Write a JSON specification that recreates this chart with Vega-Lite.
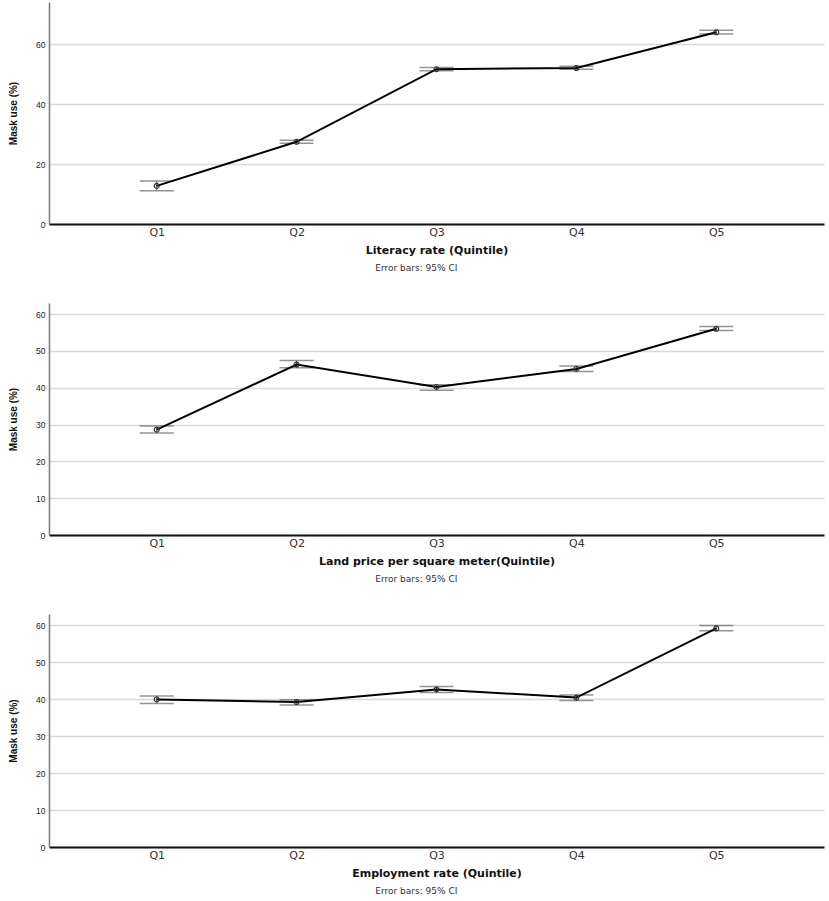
{
  "$schema": "https://vega.github.io/schema/vega-lite/v6.json",
  "background": "white",
  "padding": {"left": 8, "top": 2, "right": 4, "bottom": 0},
  "spacing": 30,
  "datasets": {
    "literacy": [
      {"quintile": "Q1", "mean": 12.7, "lo": 11.1, "hi": 14.3},
      {"quintile": "Q2", "mean": 27.4, "lo": 26.9, "hi": 27.9},
      {"quintile": "Q3", "mean": 51.6, "lo": 51.1, "hi": 52.2},
      {"quintile": "Q4", "mean": 52.0, "lo": 51.6, "hi": 52.6},
      {"quintile": "Q5", "mean": 63.9, "lo": 63.3, "hi": 64.6}
    ],
    "land": [
      {"quintile": "Q1", "mean": 28.6, "lo": 27.7, "hi": 29.6},
      {"quintile": "Q2", "mean": 46.3, "lo": 45.4, "hi": 47.4},
      {"quintile": "Q3", "mean": 40.2, "lo": 39.3, "hi": 40.8},
      {"quintile": "Q4", "mean": 45.1, "lo": 44.4, "hi": 45.9},
      {"quintile": "Q5", "mean": 56.0, "lo": 55.5, "hi": 56.6}
    ],
    "employment": [
      {"quintile": "Q1", "mean": 39.9, "lo": 38.8, "hi": 40.8},
      {"quintile": "Q2", "mean": 39.2, "lo": 38.4, "hi": 39.8},
      {"quintile": "Q3", "mean": 42.6, "lo": 41.8, "hi": 43.4},
      {"quintile": "Q4", "mean": 40.4, "lo": 39.6, "hi": 41.1},
      {"quintile": "Q5", "mean": 59.1, "lo": 58.5, "hi": 59.9}
    ]
  },
  "config": {
    "view": {"stroke": null},
    "font": "Liberation Sans",
    "axisX": {
      "domainColor": "#111",
      "domainWidth": 2.2,
      "ticks": false,
      "grid": false,
      "labelAngle": 0,
      "labelFont": "DejaVu Sans",
      "labelFontSize": 11,
      "labelColor": "#333",
      "labelPadding": 2,
      "titleFont": "DejaVu Sans",
      "titleFontSize": 11,
      "titleFontWeight": "bold",
      "titleColor": "#111",
      "titlePadding": 7
    },
    "axisY": {
      "domainColor": "#777",
      "domainWidth": 1.5,
      "ticks": false,
      "grid": true,
      "gridColor": "#d9d9d9",
      "gridWidth": 1.3,
      "labelFont": "Liberation Sans",
      "labelFontSize": 8.5,
      "labelColor": "#222",
      "labelPadding": 4,
      "titleFont": "Liberation Sans",
      "titleFontSize": 10,
      "titleFontWeight": "bold",
      "titleColor": "#111",
      "titlePadding": 17
    },
    "title": {
      "orient": "bottom",
      "anchor": "middle",
      "frame": "bounds",
      "font": "DejaVu Sans",
      "fontSize": 9,
      "fontWeight": "normal",
      "color": "#333",
      "offset": 9
    }
  },
  "vconcat": [
    {
      "width": 775,
      "height": 222,
      "data": {"name": "literacy"},
      "title": "Error bars: 95% CI",
      "encoding": {
        "x": {"field": "quintile", "type": "ordinal", "scale": {"type": "point", "padding": 0.77}, "title": "Literacy rate (Quintile)"}
      },
      "layer": [
        {
          "mark": {"type": "rule", "color": "#555", "strokeWidth": 1},
          "encoding": {
            "y": {"field": "lo", "type": "quantitative", "scale": {"domain": [0, 74], "nice": false}, "axis": {"values": [0, 20, 40, 60]}, "title": "Mask use (%)"},
            "y2": {"field": "hi"}
          }
        },
        {
          "mark": {"type": "tick", "color": "#666", "size": 34, "thickness": 1.5},
          "encoding": {"y": {"field": "lo", "type": "quantitative", "axis": {"values": [0, 20, 40, 60]}, "title": "Mask use (%)"}}
        },
        {
          "mark": {"type": "tick", "color": "#666", "size": 34, "thickness": 1.5},
          "encoding": {"y": {"field": "hi", "type": "quantitative", "axis": {"values": [0, 20, 40, 60]}, "title": "Mask use (%)"}}
        },
        {
          "mark": {"type": "line", "color": "#000", "strokeWidth": 2},
          "encoding": {"y": {"field": "mean", "type": "quantitative", "axis": {"values": [0, 20, 40, 60]}, "title": "Mask use (%)"}}
        },
        {
          "mark": {"type": "point", "shape": "circle", "filled": false, "size": 24, "color": "#333", "strokeWidth": 1.2, "opacity": 1},
          "encoding": {"y": {"field": "mean", "type": "quantitative", "axis": {"values": [0, 20, 40, 60]}, "title": "Mask use (%)"}}
        }
      ]
    },
    {
      "width": 775,
      "height": 232,
      "data": {"name": "land"},
      "title": "Error bars: 95% CI",
      "encoding": {
        "x": {"field": "quintile", "type": "ordinal", "scale": {"type": "point", "padding": 0.77}, "title": "Land price per square meter(Quintile)"}
      },
      "layer": [
        {
          "mark": {"type": "rule", "color": "#555", "strokeWidth": 1},
          "encoding": {
            "y": {"field": "lo", "type": "quantitative", "scale": {"domain": [0, 63], "nice": false}, "axis": {"values": [0, 10, 20, 30, 40, 50, 60]}, "title": "Mask use (%)"},
            "y2": {"field": "hi"}
          }
        },
        {
          "mark": {"type": "tick", "color": "#666", "size": 34, "thickness": 1.5},
          "encoding": {"y": {"field": "lo", "type": "quantitative", "axis": {"values": [0, 10, 20, 30, 40, 50, 60]}, "title": "Mask use (%)"}}
        },
        {
          "mark": {"type": "tick", "color": "#666", "size": 34, "thickness": 1.5},
          "encoding": {"y": {"field": "hi", "type": "quantitative", "axis": {"values": [0, 10, 20, 30, 40, 50, 60]}, "title": "Mask use (%)"}}
        },
        {
          "mark": {"type": "line", "color": "#000", "strokeWidth": 2},
          "encoding": {"y": {"field": "mean", "type": "quantitative", "axis": {"values": [0, 10, 20, 30, 40, 50, 60]}, "title": "Mask use (%)"}}
        },
        {
          "mark": {"type": "point", "shape": "circle", "filled": false, "size": 24, "color": "#333", "strokeWidth": 1.2, "opacity": 1},
          "encoding": {"y": {"field": "mean", "type": "quantitative", "axis": {"values": [0, 10, 20, 30, 40, 50, 60]}, "title": "Mask use (%)"}}
        }
      ]
    },
    {
      "width": 775,
      "height": 233,
      "data": {"name": "employment"},
      "title": "Error bars: 95% CI",
      "encoding": {
        "x": {"field": "quintile", "type": "ordinal", "scale": {"type": "point", "padding": 0.77}, "title": "Employment rate (Quintile)"}
      },
      "layer": [
        {
          "mark": {"type": "rule", "color": "#555", "strokeWidth": 1},
          "encoding": {
            "y": {"field": "lo", "type": "quantitative", "scale": {"domain": [0, 63], "nice": false}, "axis": {"values": [0, 10, 20, 30, 40, 50, 60]}, "title": "Mask use (%)"},
            "y2": {"field": "hi"}
          }
        },
        {
          "mark": {"type": "tick", "color": "#666", "size": 34, "thickness": 1.5},
          "encoding": {"y": {"field": "lo", "type": "quantitative", "axis": {"values": [0, 10, 20, 30, 40, 50, 60]}, "title": "Mask use (%)"}}
        },
        {
          "mark": {"type": "tick", "color": "#666", "size": 34, "thickness": 1.5},
          "encoding": {"y": {"field": "hi", "type": "quantitative", "axis": {"values": [0, 10, 20, 30, 40, 50, 60]}, "title": "Mask use (%)"}}
        },
        {
          "mark": {"type": "line", "color": "#000", "strokeWidth": 2},
          "encoding": {"y": {"field": "mean", "type": "quantitative", "axis": {"values": [0, 10, 20, 30, 40, 50, 60]}, "title": "Mask use (%)"}}
        },
        {
          "mark": {"type": "point", "shape": "circle", "filled": false, "size": 24, "color": "#333", "strokeWidth": 1.2, "opacity": 1},
          "encoding": {"y": {"field": "mean", "type": "quantitative", "axis": {"values": [0, 10, 20, 30, 40, 50, 60]}, "title": "Mask use (%)"}}
        }
      ]
    }
  ]
}
